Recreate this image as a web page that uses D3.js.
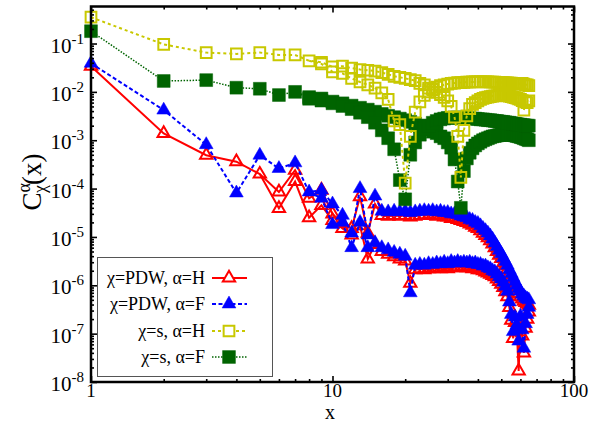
<!DOCTYPE html>
<html>
<head>
<meta charset="utf-8">
<script src="https://cdnjs.cloudflare.com/ajax/libs/d3/7.8.5/d3.min.js"></script>
<style>
  body { margin: 0; background: #fff; }
</style>
</head>
<body>
<div id="plotPanel"></div>
<script>
// distances x = 1..65
const xs = [1,2,3,4,5,6,7,8,9,10,11,12,13,14,15,16,17,18,19,20,21,22,23,24,25,26,27,28,29,30,
  31,32,33,34,35,36,37,38,39,40,41,42,43,44,45,46,47,48,49,50,51,52,53,54,55,56,57,58,59,60,
  61,62,63,64,65];

// chi=PDW, alpha=H  (two branches per distance: a, b)
const pdwH_a = [0.034,1.38e-3,4.9e-4,3.6e-4,2.0e-4,8.5e-5,2.4e-4,6.3e-5,9.3e-5,3.0e-5,
  1.9e-5,1.5e-5,6.8e-5,1.2e-5,4.8e-5,2.8e-5,2.7e-5,2.8e-5,2.7e-5,2.8e-5,
  2.6e-5,2.7e-5,2.8e-5,2.9e-5,2.8e-5,2.9e-5,2.7e-5,2.8e-5,2.6e-5,2.6e-5,
  2.4e-5,2.4e-5,2.3e-5,2.2e-5,2.1e-5,2.0e-5,1.85e-5,1.75e-5,1.6e-5,1.5e-5,
  1.35e-5,1.2e-5,1.08e-5,9.6e-6,8.4e-6,7.2e-6,6e-6,5e-6,4.2e-6,3.6e-6,
  2.9e-6,2.5e-6,2.1e-6,1.7e-6,1.4e-6,1.15e-6,9.5e-7,8e-7,6.8e-7,5.8e-7,
  5.2e-7,4.7e-7,4.4e-7,4.1e-7,3.9e-7];
const pdwH_b = [null,null,null,null,null,3.9e-5,1.4e-4,2.5e-5,4.5e-5,2.2e-5,
  1.5e-5,1.1e-5,1.7e-5,3.5e-6,7e-6,5e-6,4.4e-6,3.9e-6,3.5e-6,3.2e-6,
  1.1e-6,2.1e-6,2.2e-6,2.1e-6,2.2e-6,2.2e-6,2.3e-6,2.2e-6,2.4e-6,2.2e-6,
  2.4e-6,2.3e-6,2.4e-6,2.3e-6,2.4e-6,2.3e-6,2.3e-6,2.2e-6,2.3e-6,2.1e-6,
  2.1e-6,2.0e-6,1.9e-6,1.8e-6,1.7e-6,1.6e-6,1.5e-6,1.35e-6,1.2e-6,1.05e-6,
  9e-7,7.4e-7,5.8e-7,3.5e-7,1.9e-7,8e-8,1.7e-7,1.1e-7,1.7e-8,1.8e-7,
  9e-8,4e-8,1.3e-7,2e-7,2.8e-7];

// chi=PDW, alpha=F
const pdwF_a = [0.039,0.0042,8.1e-4,8.1e-5,4.9e-4,2.6e-4,3.4e-4,8.5e-5,9.3e-5,4.8e-5,
  2.8e-5,1.2e-5,1.0e-4,1.1e-5,7.0e-5,3.4e-5,3.3e-5,3.4e-5,3.3e-5,3.4e-5,
  3.2e-5,3.3e-5,3.4e-5,3.5e-5,3.4e-5,3.5e-5,3.3e-5,3.4e-5,3.2e-5,3.2e-5,
  3.0e-5,3.0e-5,2.9e-5,2.7e-5,2.6e-5,2.5e-5,2.3e-5,2.2e-5,2.0e-5,1.9e-5,
  1.7e-5,1.5e-5,1.35e-5,1.2e-5,1.05e-5,9e-6,7.5e-6,6.3e-6,5.3e-6,4.5e-6,
  3.7e-6,3.1e-6,2.6e-6,2.1e-6,1.75e-6,1.45e-6,1.2e-6,1.0e-6,8.5e-7,7.5e-7,
  6.5e-7,6e-7,5.5e-7,5.2e-7,5e-7];
const pdwF_b = [null,null,null,null,null,null,null,null,6.3e-5,1.8e-5,
  2.0e-5,6.0e-6,2.0e-5,6e-6,7.6e-6,6e-6,5.4e-6,4.8e-6,4.4e-6,4.0e-6,
  7e-7,2.6e-6,2.7e-6,2.6e-6,2.8e-6,2.7e-6,2.9e-6,2.8e-6,3.0e-6,2.8e-6,
  3.1e-6,2.9e-6,3.1e-6,2.9e-6,3.0e-6,2.9e-6,3.0e-6,2.8e-6,2.9e-6,2.7e-6,
  2.7e-6,2.5e-6,2.5e-6,2.3e-6,2.2e-6,2.0e-6,1.9e-6,1.7e-6,1.5e-6,1.35e-6,
  1.15e-6,9.5e-7,7.5e-7,4.5e-7,2.5e-7,1.1e-7,2.2e-7,1.5e-7,7e-8,2.3e-7,
  1.2e-7,5e-8,1.6e-7,2.5e-7,3.5e-7];

// chi=s, alpha=H
const sH_a = [0.35,0.096,0.065,0.061,0.065,0.058,0.058,0.044,0.041,0.033,
  0.034,0.031,0.029,0.028,0.027,0.025,0.023,0.021,0.020,0.019,
  0.018,0.017,0.015,0.014,0.012,0.011,0.0098,0.0088,0.0077,0.0065,
  0.005,0.003,0.0012,1.7e-4,0.0016,0.0032,0.0045,0.0055,0.006,0.0065,
  0.007,0.0073,0.0076,0.0078,0.008,0.0082,0.0083,0.0084,0.0085,0.0085,
  0.0085,0.0084,0.0083,0.0082,0.008,0.0078,0.0076,0.0074,0.0072,0.007,
  0.0066,0.0042,0.0062,0.006,0.0065];
const sH_b = [null,null,null,null,null,null,null,null,0.038,0.026,
  0.024,0.019,0.016,0.014,0.012,0.0095,0.007,0.0025,0.0021,1.3e-4,
  0.0012,0.0038,0.0062,0.0085,0.010,0.0115,0.0125,0.0135,0.014,0.0145,
  0.015,0.0152,0.0155,0.0156,0.0158,0.016,0.016,0.0161,0.0161,0.0162,
  0.0162,0.0162,0.0161,0.0161,0.016,0.016,0.0159,0.0158,0.0157,0.0156,
  0.0155,0.0154,0.0153,0.0152,0.0151,0.015,0.0149,0.0148,0.0147,0.0146,
  0.015,0.0145,0.014,0.014,0.0135];

// chi=s, alpha=F
const sF_a = [0.18,0.0168,0.0175,0.0122,0.0116,0.0086,0.010,0.0078,0.0073,0.0063,
  0.0058,0.0052,0.0047,0.0043,0.0039,0.0035,0.0032,0.0030,0.0028,0.0026,
  0.0024,0.0022,0.0020,0.0018,0.0017,0.0015,0.0014,0.0012,0.0011,9e-4,
  7e-4,4e-4,1.4e-4,4e-5,2.3e-4,4.2e-4,5.5e-4,6.8e-4,7.8e-4,8.6e-4,
  9.3e-4,1.0e-3,1.05e-3,1.1e-3,1.15e-3,1.2e-3,1.22e-3,1.25e-3,1.28e-3,1.3e-3,
  1.3e-3,1.3e-3,1.3e-3,1.3e-3,1.3e-3,1.28e-3,1.25e-3,1.22e-3,1.2e-3,1.17e-3,
  1.14e-3,1.1e-3,1.07e-3,1.04e-3,1.0e-3];
const sF_b = [null,null,null,null,null,null,null,0.0072,0.0066,0.0058,
  0.0051,0.0044,0.0037,0.0030,0.0023,0.0016,0.0011,6.5e-4,1.5e-4,6e-5,
  5e-4,9e-4,1.3e-3,1.7e-3,2.0e-3,2.3e-3,2.5e-3,2.7e-3,2.8e-3,2.9e-3,
  2.9e-3,2.95e-3,2.95e-3,2.9e-3,2.9e-3,2.85e-3,2.85e-3,2.8e-3,2.8e-3,2.75e-3,
  2.7e-3,2.7e-3,2.65e-3,2.6e-3,2.6e-3,2.55e-3,2.5e-3,2.5e-3,2.45e-3,2.4e-3,
  2.4e-3,2.35e-3,2.3e-3,2.3e-3,2.25e-3,2.2e-3,2.2e-3,2.15e-3,2.1e-3,2.1e-3,
  2.05e-3,2.05e-3,2.0e-3,2.0e-3,2.0e-3];

const legendLabels = ["χ=PDW, α=H", "χ=PDW, α=F", "χ=s, α=H", "χ=s, α=F"];
const yTickExp = [-8,-7,-6,-5,-4,-3,-2,-1];
const xTickVals = [1, 10, 100];

const SERIF = "'Liberation Serif'";

// branch a is one polyline; branch b branches off from the last shared point
function branchA(a) {
  return xs.map((x, i) => ({ x: x, y: a[i] }));
}
function branchB(a, b) {
  let out = [];
  xs.forEach((x, i) => {
    if (b[i] == null) return;
    if (out.length == 0 && i > 0) out.push({ x: xs[i - 1], y: a[i - 1], shared: true });
    out.push({ x: x, y: b[i] });
  });
  return out;
}

let series = [
  { name: legendLabels[0], a: pdwH_a, b: pdwH_b, color: "#ff0000", dash: null, lw: 2,
    symbol: d3.symbolTriangle, size: 66, filled: false },
  { name: legendLabels[1], a: pdwF_a, b: pdwF_b, color: "#0000ff", dash: "4,2.5", lw: 2,
    symbol: d3.symbolTriangle, size: 82, filled: true },
  { name: legendLabels[3], a: sF_a, b: sF_b, color: "#006400", dash: "1.5,1.5", lw: 1.5,
    symbol: d3.symbolSquare, size: 165, filled: true },
  { name: legendLabels[2], a: sH_a, b: sH_b, color: "#c8c800", dash: "3,3", lw: 2,
    symbol: d3.symbolSquare, size: 115, filled: false }
];

let W = 612, H = 423;
let m = { top: 6.5, right: 38, bottom: 41, left: 91 };

var xScale = d3.scaleLog().domain([1, 100]).range([m.left, W - m.right]);
var yScale = d3.scaleLog().domain([1e-8, 0.583]).range([H - m.bottom, m.top]);

var svg = d3.select("#plotPanel").append("svg")
  .attr("width", W).attr("height", H);

var plot = svg.append("g");

var line = d3.line()
  .x(d => xScale(d.x))
  .y(d => yScale(d.y));

series.forEach(s => {
  let lines = [branchA(s.a), branchB(s.a, s.b)];
  lines.forEach(pts => {
    plot.append("path")
      .datum(pts)
      .attr("fill", "none")
      .attr("stroke", s.color)
      .attr("stroke-width", s.lw)
      .attr("stroke-dasharray", s.dash)
      .attr("d", line);
  });
  lines.forEach(pts => {
    plot.selectAll(null)
      .data(pts.filter(d => !d.shared))
      .enter().append("path")
      .attr("transform", d => "translate(" + xScale(d.x) + "," + yScale(d.y) + ")")
      .attr("d", d3.symbol().type(s.symbol).size(s.size))
      .attr("fill", s.filled ? s.color : "none")
      .attr("stroke", s.color)
      .attr("stroke-width", s.filled ? 0.5 : 2);
  });
});

// minor tick values
let xMinor = [], yMinor = [];
[1, 10].forEach(d => { for (let k = 2; k < 10; k++) xMinor.push(d * k); });
yTickExp.forEach(e => { for (let k = 2; k < 10; k++) { let v = k * Math.pow(10, e); if (v < 0.583) yMinor.push(v); } });
let yMajor = yTickExp.map(e => Math.pow(10, e));

function axisStyle(g) {
  g.select(".domain").remove();
  g.selectAll("line").attr("stroke", "#000").attr("stroke-width", 1.6);
  g.selectAll("text").remove();
}

function ticks(axis, tr) {
  svg.append("g").attr("transform", tr).call(axis).call(axisStyle);
}
let bottomT = "translate(0," + (H - m.bottom) + ")";
let topT = "translate(0," + m.top + ")";
let leftT = "translate(" + m.left + ",0)";
let rightT = "translate(" + (W - m.right) + ",0)";

ticks(d3.axisBottom(xScale).tickValues(xTickVals).tickSize(-6), bottomT);
ticks(d3.axisBottom(xScale).tickValues(xMinor).tickSize(-3), bottomT);
ticks(d3.axisTop(xScale).tickValues(xTickVals).tickSize(-6), topT);
ticks(d3.axisTop(xScale).tickValues(xMinor).tickSize(-3), topT);
ticks(d3.axisLeft(yScale).tickValues(yMajor).tickSize(-6), leftT);
ticks(d3.axisLeft(yScale).tickValues(yMinor).tickSize(-3), leftT);
ticks(d3.axisRight(yScale).tickValues(yMajor).tickSize(-6), rightT);
ticks(d3.axisRight(yScale).tickValues(yMinor).tickSize(-3), rightT);

// tick labels
svg.append("g").selectAll("text")
  .data(xTickVals).enter().append("text")
  .style("font-family", SERIF)
  .attr("x", d => xScale(d)).attr("y", 397)
  .attr("text-anchor", "middle").attr("font-size", 19)
  .text(d => d);

let yl = svg.append("g").selectAll("text")
  .data(yMajor).enter().append("text")
  .style("font-family", SERIF)
  .attr("x", 84).attr("y", d => yScale(d) + 9)
  .attr("text-anchor", "end").attr("font-size", 21);
yl.append("tspan").text("10");
yl.append("tspan").attr("dy", -9).attr("font-size", 15)
  .text(d => "-" + Math.round(-Math.log10(d)));

// frame
svg.append("rect")
  .attr("x", m.left).attr("y", m.top)
  .attr("width", W - m.right - m.left).attr("height", H - m.bottom - m.top)
  .attr("fill", "none").attr("stroke", "#000").attr("stroke-width", 2.5);

// axis titles
svg.append("text")
  .style("font-family", SERIF)
  .attr("x", 330).attr("y", 419)
  .attr("text-anchor", "middle").attr("font-size", 20).text("x");

let ylab = svg.append("text")
  .style("font-family", SERIF)
  .attr("transform", "translate(41,182) rotate(-90)")
  .attr("text-anchor", "middle").attr("font-size", 27);
ylab.append("tspan").text("C");
ylab.append("tspan").attr("dy", -11).attr("font-size", 18).text("α");
ylab.append("tspan").attr("dx", -10).attr("dy", 16).attr("font-size", 18).text("χ");
ylab.append("tspan").attr("dy", -5).text("(x)");

// legend
let lg = svg.append("g");
lg.append("rect")
  .attr("x", 97.5).attr("y", 257.5).attr("width", 175).attr("height", 119)
  .attr("fill", "#fff").attr("stroke", "#555").attr("stroke-width", 1);

let legendOrder = [series[0], series[1], series[3], series[2]];
let rowY = [278, 304, 331, 357];
legendOrder.forEach((s, i) => {
  let y = rowY[i];
  lg.append("text")
    .style("font-family", SERIF)
    .attr("x", 205).attr("y", y + 6)
    .attr("text-anchor", "end").attr("font-size", 18)
    .text(s.name);
  lg.append("line")
    .attr("x1", 212).attr("x2", 247).attr("y1", y).attr("y2", y)
    .attr("stroke", s.color).attr("stroke-width", s.lw)
    .attr("stroke-dasharray", s.dash);
  lg.append("path")
    .attr("transform", "translate(229," + y + ")")
    .attr("d", d3.symbol().type(s.symbol).size(s.size))
    .attr("fill", s.filled ? s.color : "#fff")
    .attr("stroke", s.color)
    .attr("stroke-width", s.filled ? 0.5 : 2);
});
</script>
</body>
</html>
